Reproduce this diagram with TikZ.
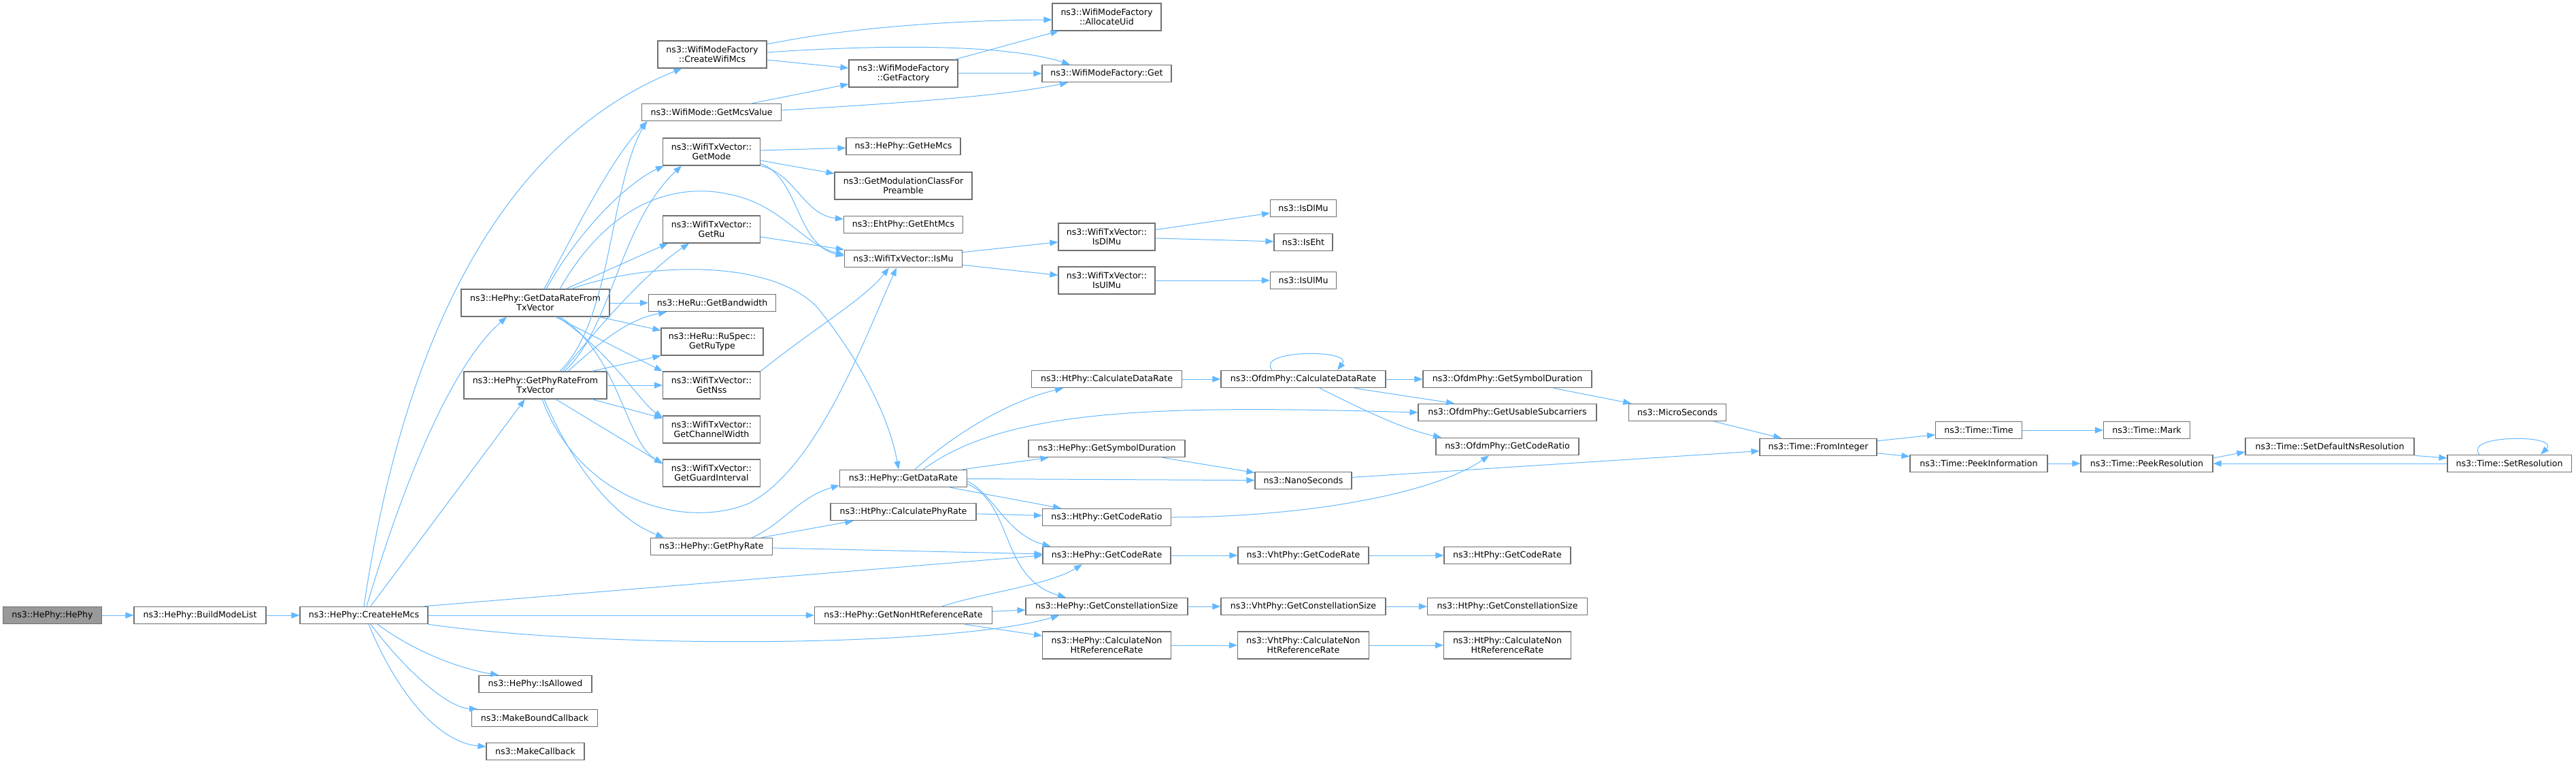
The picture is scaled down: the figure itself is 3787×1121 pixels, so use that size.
\documentclass[tikz,border=0pt]{standalone}
\usepackage{fontspec}
\setmainfont{DejaVu Sans}
\usetikzlibrary{arrows.meta}
\definecolor{edgec}{HTML}{63B8FF}
\definecolor{boxc}{HTML}{707070}
\definecolor{rootc}{HTML}{999999}
\tikzset{
  box/.style={draw=boxc, fill=white, line width=1.1pt, inner sep=0pt, minimum height=25.5pt, align=center, font=\fontsize{12.6pt}{14pt}\selectfont},
  box2/.style={box, minimum height=40pt},
  root/.style={box, fill=rootc},
  e/.style={draw=edgec, line width=1pt, -{Triangle[length=12pt,width=9pt]}}
}
\begin{document}
\begin{tikzpicture}[x=1pt,y=-1pt]
\useasboundingbox (0,0) rectangle (3787,1121);
% nodes
\node[root, minimum width=145pt] (hephy) at (77,904) {ns3::HePhy::HePhy};
\node[box, minimum width=194pt] (build) at (294,904) {ns3::HePhy::BuildModeList};
\node[box, minimum width=188pt] (create) at (535,904) {ns3::HePhy::CreateHeMcs};
\node[box, minimum width=166pt] (isallowed) at (787,1005) {ns3::HePhy::IsAllowed};
\node[box, minimum width=185pt] (mbc) at (786,1055) {ns3::MakeBoundCallback};
\node[box, minimum width=144pt] (mc) at (787,1104) {ns3::MakeCallback};
\node[box2, minimum width=218pt] (gdr) at (787,445) {ns3::HePhy::GetDataRateFrom\\TxVector};
\node[box2, minimum width=210pt] (gpr) at (787,566) {ns3::HePhy::GetPhyRateFrom\\TxVector};
\node[box2, minimum width=160pt] (cwm) at (1047,80) {ns3::WifiModeFactory\\::CreateWifiMcs};
\node[box, minimum width=205pt] (mcsv) at (1046,165) {ns3::WifiMode::GetMcsValue};
\node[box2, minimum width=143pt] (getmode) at (1046,223) {ns3::WifiTxVector::\\GetMode};
\node[box2, minimum width=143pt] (getru) at (1046,337) {ns3::WifiTxVector::\\GetRu};
\node[box, minimum width=187pt] (bw) at (1047,445) {ns3::HeRu::GetBandwidth};
\node[box2, minimum width=150pt] (rutype) at (1047,502) {ns3::HeRu::RuSpec::\\GetRuType};
\node[box2, minimum width=143pt] (nss) at (1046,566) {ns3::WifiTxVector::\\GetNss};
\node[box2, minimum width=143pt] (chw) at (1046,631) {ns3::WifiTxVector::\\GetChannelWidth};
\node[box2, minimum width=143pt] (gi) at (1046,695) {ns3::WifiTxVector::\\GetGuardInterval};
\node[box, minimum width=179pt] (phyrate) at (1046,803) {ns3::HePhy::GetPhyRate};
\node[box2, minimum width=160pt] (factory) at (1328,108) {ns3::WifiModeFactory\\::GetFactory};
\node[box, minimum width=168pt] (hemcs) at (1328,215) {ns3::HePhy::GetHeMcs};
\node[box2, minimum width=202pt] (modclass) at (1328,273) {ns3::GetModulationClassFor\\Preamble};
\node[box, minimum width=175pt] (ehtmcs) at (1328,330) {ns3::EhtPhy::GetEhtMcs};
\node[box, minimum width=173pt] (ismu) at (1328,380) {ns3::WifiTxVector::IsMu};
\node[box, minimum width=187pt] (getdatarate) at (1328,703) {ns3::HePhy::GetDataRate};
\node[box, minimum width=214pt] (calcphy) at (1328,752) {ns3::HtPhy::CalculatePhyRate};
\node[box, minimum width=261pt] (nonht) at (1328,904) {ns3::HePhy::GetNonHtReferenceRate};
\node[box2, minimum width=160pt] (uid) at (1627,25) {ns3::WifiModeFactory\\::AllocateUid};
\node[box, minimum width=190pt] (mfget) at (1627,108) {ns3::WifiModeFactory::Get};
\node[box2, minimum width=142pt] (isdlmu) at (1627,348) {ns3::WifiTxVector::\\IsDlMu};
\node[box2, minimum width=142pt] (isulmu) at (1627,412) {ns3::WifiTxVector::\\IsUlMu};
\node[box, minimum width=221pt] (htcalcdr) at (1627,557) {ns3::HtPhy::CalculateDataRate};
\node[box, minimum width=230pt] (hesym) at (1627,659) {ns3::HePhy::GetSymbolDuration};
\node[box, minimum width=189pt] (htcoderatio) at (1627,760) {ns3::HtPhy::GetCodeRatio};
\node[box, minimum width=188pt] (coderate) at (1627,816) {ns3::HePhy::GetCodeRate};
\node[box, minimum width=238pt] (const) at (1627,891) {ns3::HePhy::GetConstellationSize};
\node[box2, minimum width=189pt] (calcnonht) at (1627,948) {ns3::HePhy::CalculateNon\\HtReferenceRate};
\node[box, minimum width=97pt] (nsisdlmu) at (1916,306) {ns3::IsDlMu};
\node[box, minimum width=86pt] (nsiseht) at (1916,356) {ns3::IsEht};
\node[box, minimum width=97pt] (nsisulmu) at (1916,412) {ns3::IsUlMu};
\node[box, minimum width=242pt] (ofdmcalc) at (1916,557) {ns3::OfdmPhy::CalculateDataRate};
\node[box, minimum width=142pt] (nanos) at (1916,706) {ns3::NanoSeconds};
\node[box, minimum width=192pt] (vhtcode) at (1916,816) {ns3::VhtPhy::GetCodeRate};
\node[box, minimum width=242pt] (vhtconst) at (1916,891) {ns3::VhtPhy::GetConstellationSize};
\node[box2, minimum width=193pt] (vhtnonht) at (1916,948) {ns3::VhtPhy::CalculateNon\\HtReferenceRate};
\node[box, minimum width=248pt] (ofdmsym) at (2216,557) {ns3::OfdmPhy::GetSymbolDuration};
\node[box, minimum width=262pt] (usable) at (2216,606) {ns3::OfdmPhy::GetUsableSubcarriers};
\node[box, minimum width=210pt] (ofdmratio) at (2216,656) {ns3::OfdmPhy::GetCodeRatio};
\node[box, minimum width=186pt] (htcode) at (2216,816) {ns3::HtPhy::GetCodeRate};
\node[box, minimum width=235pt] (htconst) at (2216,891) {ns3::HtPhy::GetConstellationSize};
\node[box2, minimum width=187pt] (htnonht) at (2216,948) {ns3::HtPhy::CalculateNon\\HtReferenceRate};
\node[box, minimum width=143pt] (micro) at (2466,606) {ns3::MicroSeconds};
\node[box, minimum width=172pt] (fromint) at (2673,657) {ns3::Time::FromInteger};
\node[box, minimum width=127pt] (ttime) at (2909,632) {ns3::Time::Time};
\node[box, minimum width=202pt] (peekinfo) at (2909,681) {ns3::Time::PeekInformation};
\node[box, minimum width=127pt] (mark) at (3156,632) {ns3::Time::Mark};
\node[box, minimum width=194pt] (peekres) at (3156,681) {ns3::Time::PeekResolution};
\node[box, minimum width=248pt] (setdef) at (3425,656) {ns3::Time::SetDefaultNsResolution};
\node[box, minimum width=182pt] (setres) at (3689,681) {ns3::Time::SetResolution};
% edges
\draw[e] (hephy) -- (build);
\draw[e] (build) -- (create);
\draw[e] (create.north) .. controls (575,620) and (680,230) .. ([xshift=36pt]cwm.south west);
\draw[e] ([xshift=4pt]create.north) .. controls (590,720) and (660,540) .. ([xshift=-42pt]gdr.south);
\draw[e] (create) -- (gpr);
\draw[e] ([xshift=-6pt]create.north east) -- (coderate.west);
\draw[e] (create) -- (nonht);
\draw[e] (create.south east) .. controls (900,955) and (1400,950) .. ([xshift=-70pt]const.south);
\draw[e] ([xshift=20pt]create.south) .. controls (620,965) and (690,985) .. ([xshift=-54pt]isallowed.north);
\draw[e] ([xshift=10pt]create.south) .. controls (600,990) and (660,1040) .. ([xshift=9pt]mbc.north west);
\draw[e] ([xshift=7pt]create.south) .. controls (580,1010) and (640,1090) .. ([yshift=7pt]mc.west);
% gdr
\draw[e] ([xshift=13pt]gdr.north) .. controls (840,350) and (900,230) .. ([xshift=-94pt]mcsv.south);
\draw[e] ([xshift=16pt]gdr.north) .. controls (850,340) and (920,270) .. ([xshift=2pt]getmode.south west);
\draw[e] ([xshift=36pt]gdr.north) .. controls (900,290) and (1000,270) .. (1070,285) .. controls (1150,300) and (1180,360) .. ([yshift=6pt]ismu.west);
\draw[e] ([xshift=45pt]gdr.north) -- ([xshift=8pt]getru.south west);
\draw[e] ([xshift=53pt]gdr.north) .. controls (950,385) and (1130,380) .. (1200,450) .. controls (1250,510) and (1305,600) .. ([xshift=-7pt]getdatarate.north);
\draw[e] (gdr) -- (bw);
\draw[e] (gdr) -- (rutype);
\draw[e] ([xshift=30pt]gdr.south) -- (nss.north west);
\draw[e] ([xshift=33pt]gdr.south) .. controls (900,520) and (940,590) .. ([yshift=-3pt]chw.north west);
\draw[e] ([xshift=36pt]gdr.south) .. controls (910,520) and (920,650) .. ([yshift=-6pt]gi.north west);
% gpr
\draw[e] ([xshift=36pt]gpr.north) .. controls (900,470) and (895,280) .. ([xshift=-96pt]mcsv.south);
\draw[e] ([xshift=43pt]gpr.north) .. controls (900,480) and (910,330) .. ([xshift=28pt]getmode.south west);
\draw[e] ([xshift=40pt]gpr.north) .. controls (880,480) and (950,400) .. ([xshift=-33pt]getru.south);
\draw[e] ([xshift=48pt]gpr.north) .. controls (880,505) and (920,470) .. ([xshift=-67pt]bw.south);
\draw[e] ([xshift=83pt]gpr.north) -- (rutype.south west);
\draw[e] (gpr) -- (nss);
\draw[e] ([xshift=83pt]gpr.south) -- ([yshift=-4pt]chw.north west);
\draw[e] ([xshift=30pt]gpr.south) -- ([yshift=-7pt]gi.north west);
\draw[e] ([xshift=13pt]gpr.south) .. controls (840,680) and (900,760) .. ([xshift=-70pt]phyrate.north);
\draw[e] ([xshift=10pt]gpr.south) .. controls (850,730) and (1000,780) .. (1100,740) .. controls (1200,690) and (1270,500) .. ([xshift=-10pt]ismu.south);
% factory group
\draw[e] ([yshift=15pt]cwm.east) .. controls (1250,40) and (1400,30) .. ([yshift=-4pt]uid.west);
\draw[e] (cwm) -- (factory);
\draw[e] ([yshift=3pt]cwm.east) .. controls (1300,65) and (1480,65) .. ([xshift=-54pt]mfget.north);
\draw[e] ([xshift=-5pt]factory.north east) -- ([xshift=10pt]uid.south west);
\draw[e] (factory) -- (mfget);
\draw[e] ([xshift=60pt]mcsv.north) -- ([yshift=5pt]factory.south west);
\draw[e] ([yshift=3pt]mcsv.east) .. controls (1350,150) and (1480,140) .. ([xshift=-57pt]mfget.south);
% getmode
\draw[e] (getmode) -- (hemcs);
\draw[e] (getmode) -- (modclass);
\draw[e] (getmode.south east) .. controls (1170,255) and (1180,315) .. ([yshift=8pt]ehtmcs.west);
\draw[e] ([yshift=3pt]getmode.south east) .. controls (1175,260) and (1170,360) .. ([yshift=4pt]ismu.west);
\draw[e] (getru) -- (ismu);
\draw[e] (nss.north east) .. controls (1200,480) and (1270,440) .. ([xshift=-21pt]ismu.south);
% ismu
\draw[e] (ismu) -- (isdlmu);
\draw[e] (ismu) -- (isulmu);
\draw[e] (isdlmu) -- (nsisdlmu);
\draw[e] (isdlmu) -- (nsiseht);
\draw[e] (isulmu) -- (nsisulmu);
% getdatarate
\draw[e] ([xshift=17pt]getdatarate.north) .. controls (1400,640) and (1480,590) .. ([xshift=-64pt]htcalcdr.south);
\draw[e] ([xshift=29pt]getdatarate.north) .. controls (1480,600) and (1700,595) .. (usable.west);
\draw[e] ([xshift=87pt]getdatarate.north) -- ([xshift=30pt]hesym.south west);
\draw[e] (getdatarate) -- (nanos);
\draw[e] ([xshift=69pt]getdatarate.south) -- ([xshift=28pt]htcoderatio.north west);
\draw[e] ([yshift=-4pt]getdatarate.east) .. controls (1460,725) and (1480,785) .. ([xshift=12pt]coderate.north west);
\draw[e] ([yshift=-8pt]getdatarate.east) .. controls (1490,740) and (1470,850) .. ([xshift=-60pt]const.north);
\draw[e] (calcphy) -- (htcoderatio);
% phyrate
\draw[e] ([xshift=60pt]phyrate.north) .. controls (1150,770) and (1175,730) .. ([yshift=-10pt]getdatarate.west);
\draw[e] (phyrate) -- (calcphy);
\draw[e] (phyrate) -- (coderate);
% nonht
\draw[e] (nonht) -- (const);
\draw[e] ([xshift=57pt]nonht.north) .. controls (1450,870) and (1540,860) .. ([xshift=-36pt]coderate.south);
\draw[e] (nonht) -- (calcnonht);
% chains
\draw[e] (htcalcdr) -- (ofdmcalc);
\draw[e] (hesym) -- (nanos);
\draw[e] (htcoderatio.east) .. controls (1900,760) and (2100,730) .. ([xshift=-27pt]ofdmratio.south);
\draw[e] (coderate) -- (vhtcode);
\draw[e] (vhtcode) -- (htcode);
\draw[e] (const) -- (vhtconst);
\draw[e] (vhtconst) -- (htconst);
\draw[e] (calcnonht) -- (vhtnonht);
\draw[e] (vhtnonht) -- (htnonht);
% ofdm
\draw[e] ([xshift=-46pt]ofdmcalc.north) .. controls (1845,513) and (1990,513) .. ([xshift=50pt]ofdmcalc.north);
\draw[e] (ofdmcalc) -- (ofdmsym);
\draw[e] ([xshift=75pt]ofdmcalc.south) -- ([xshift=-78pt]usable.north);
\draw[e] ([xshift=24pt]ofdmcalc.south) .. controls (2000,600) and (2060,630) .. ([xshift=-97pt]ofdmratio.north);
\draw[e] (ofdmsym) -- (micro);
\draw[e] (micro) -- (fromint);
\draw[e] (nanos) -- (fromint);
% time
\draw[e] (fromint) -- (ttime);
\draw[e] (fromint) -- (peekinfo);
\draw[e] (ttime) -- (mark);
\draw[e] (peekinfo) -- (peekres);
\draw[e] ([yshift=8pt]peekres.east) -- ([yshift=-8pt]setdef.west);
\draw[e] (setdef.south east) -- ([yshift=8pt]setres.west);
\draw[e] (setres.west) -- (peekres.east);
\draw[e] ([xshift=-44pt]setres.north) .. controls (3620,638) and (3765,638) .. ([xshift=46pt]setres.north);
\end{tikzpicture}
\end{document}
